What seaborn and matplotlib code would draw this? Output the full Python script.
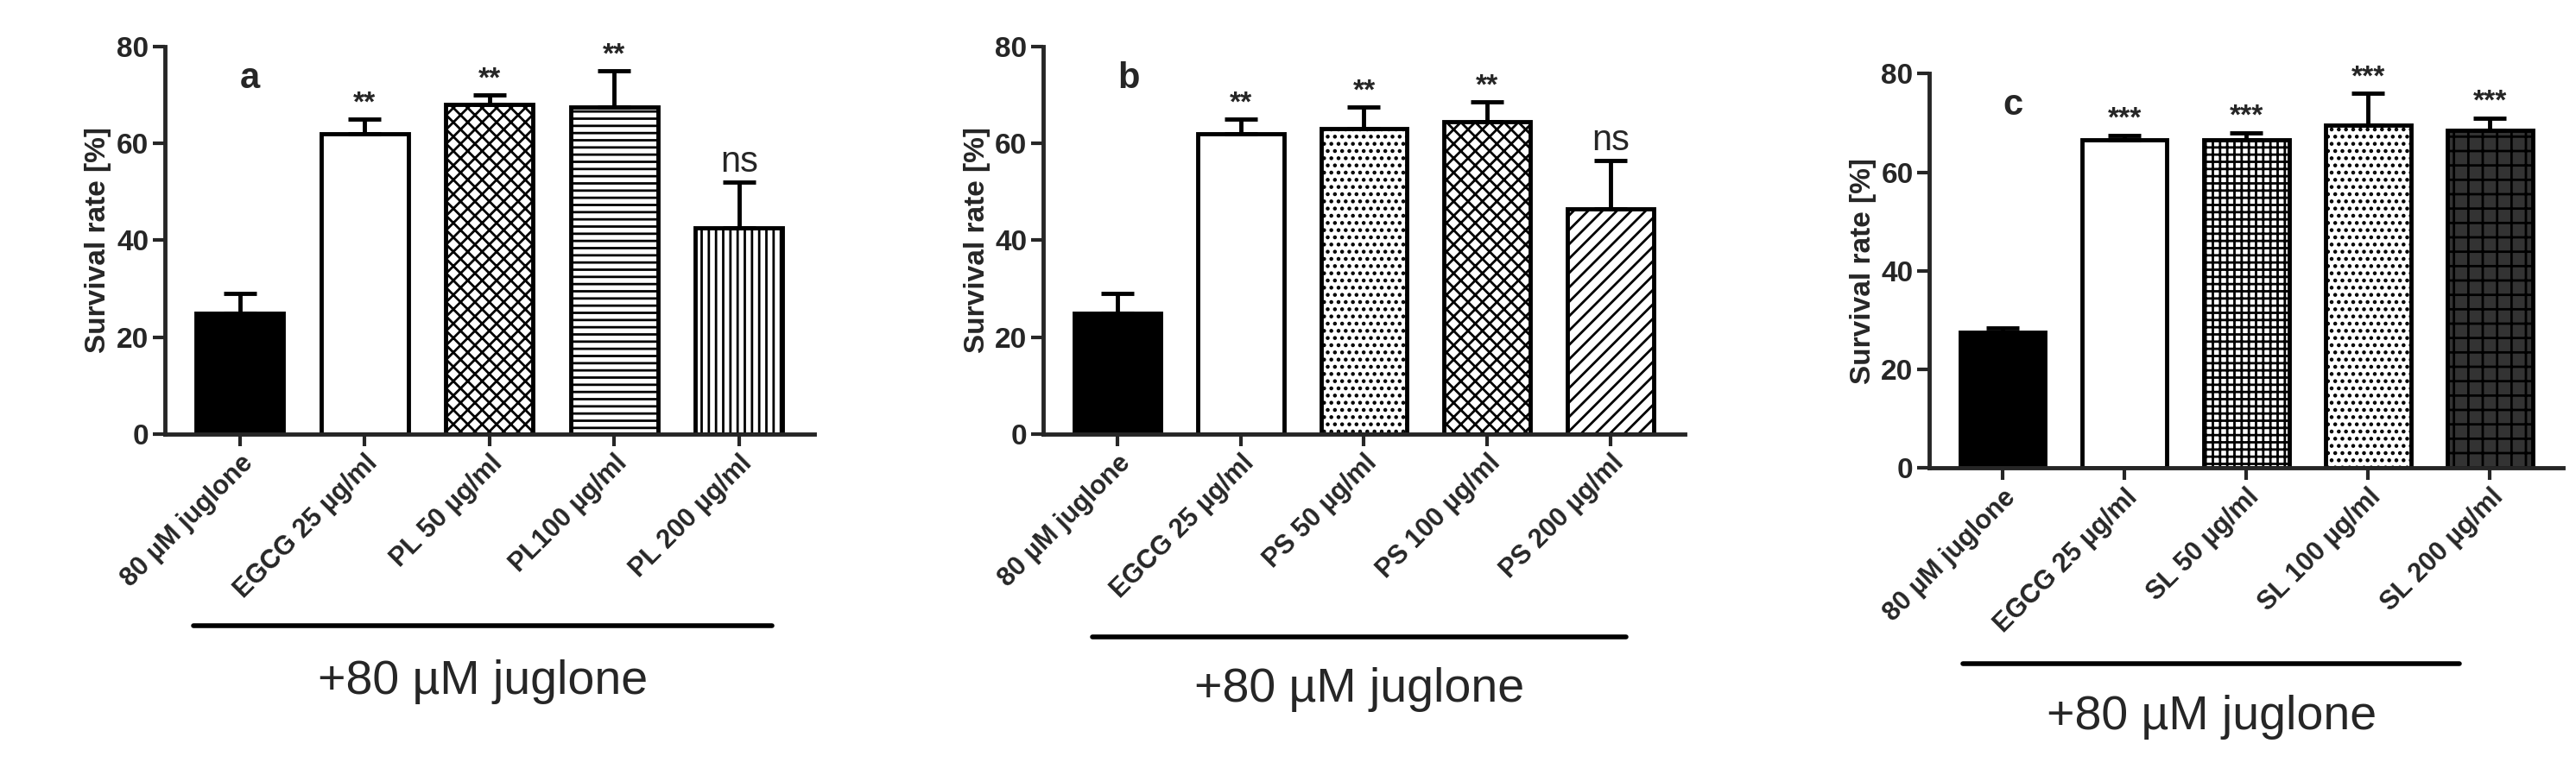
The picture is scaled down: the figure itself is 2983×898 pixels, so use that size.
import numpy as np
import pandas as pd
import seaborn as sns
import matplotlib.pyplot as plt

# data
labels_a = ["80 µM juglone", "EGCG 25 µg/ml", "PL 50 µg/ml", "PL100 µg/ml", "PL 200 µg/ml"]
means_a = [25, 62, 68, 67.5, 42.5]
errs_a = [4, 3, 2, 7.5, 9.5]
sig_a = ["", "**", "**", "**", "ns"]

labels_b = ["80 µM juglone", "EGCG 25 µg/ml", "PS 50 µg/ml", "PS 100 µg/ml", "PS 200 µg/ml"]
means_b = [25, 62, 63, 64.5, 46.5]
errs_b = [4, 3, 4.5, 4, 10]
sig_b = ["", "**", "**", "**", "ns"]

labels_c = ["80 µM juglone", "EGCG 25 µg/ml", "SL 50 µg/ml", "SL 100 µg/ml", "SL 200 µg/ml"]
means_c = [27.5, 66.5, 66.5, 69.5, 68.5]
errs_c = [1, 1, 1.5, 6.5, 2.5]
sig_c = ["", "***", "***", "***", "***"]

sns.set_style("ticks")
plt.rcParams['font.family'] = ['Liberation Sans', 'DejaVu Sans']
plt.rcParams['hatch.linewidth'] = 2.0

fig = plt.figure(figsize=(29.83, 8.98), dpi=100)

panels = [
    ("a", labels_a, means_a, errs_a, sig_a,
     [("black", None), ("white", None), ("white", "xx"), ("white", "--"), ("white", "||")],
     [0.064, 0.44, 0.252, 0.50], (118, 470, 381, 415)),
    ("b", labels_b, means_b, errs_b, sig_b,
     [("black", None), ("white", None), ("white", ".."), ("white", "xx"), ("white", "//")],
     [0.405, 0.44, 0.249, 0.50], (665, 990, 388, 420)),
    ("c", labels_c, means_c, errs_c, sig_c,
     [("black", None), ("white", None), ("white", "++"), ("white", ".."), ("#333333", "+")],
     [0.749, 0.396, 0.246, 0.509], (1195, 1497, 404, 437)),
]

W, H = 1568, 472
for letter, labels, means, errs, sig, styles, rect, (x0, x1, yl, yt) in panels:
    ax = fig.add_axes(rect)
    df = pd.DataFrame({"group": labels, "rate": means})
    sns.barplot(data=df, x="group", y="rate", ax=ax, color="white",
                edgecolor="black", linewidth=3.5, width=0.7)
    for p, (fc, h) in zip(ax.patches, styles):
        p.set_facecolor(fc)
        if h:
            p.set_hatch(h)
    xs = np.arange(len(labels))
    ax.errorbar(xs, means, yerr=[np.zeros(len(errs)), errs], fmt="none",
                ecolor="black", elinewidth=3.5, capsize=14, capthick=3.5)
    for x, m, e, s in zip(xs, means, errs, sig):
        if s:
            bold = "bold" if s != "ns" else "normal"
            ax.text(x, m + e + 0.5, s, ha="center", va="bottom",
                    fontsize=30 if s == "ns" else 24, fontweight=bold)
    ax.set_ylim(0, 80)
    ax.set_xlim(-0.6, 4.6)
    ax.set_yticks([0, 20, 40, 60, 80])
    ax.set_ylabel("Survival rate [%]", fontsize=24, fontweight="bold")
    ax.set_xlabel("")
    ax.set_xticks(xs)
    ax.set_xticklabels(labels, rotation=45, ha="right", rotation_mode="anchor",
                       fontsize=22, fontweight="bold")
    for t in ax.get_yticklabels():
        t.set_fontsize(24)
        t.set_fontweight("bold")
    ax.tick_params(width=3, length=10)
    sns.despine(ax=ax)
    for sp in ("left", "bottom"):
        ax.spines[sp].set_linewidth(3.5)
    ax.text(0.0, 77, letter, fontsize=30, fontweight="bold", va="top")
    fig.add_artist(plt.Line2D([x0 / W, x1 / W], [1 - yl / H, 1 - yl / H],
                              color="black", linewidth=4))
    fig.text((x0 + x1) / 2 / W, 1 - yt / H, "+80 µM juglone", ha="center",
             va="center", fontsize=40)

fig.savefig("out.png", dpi=100)
